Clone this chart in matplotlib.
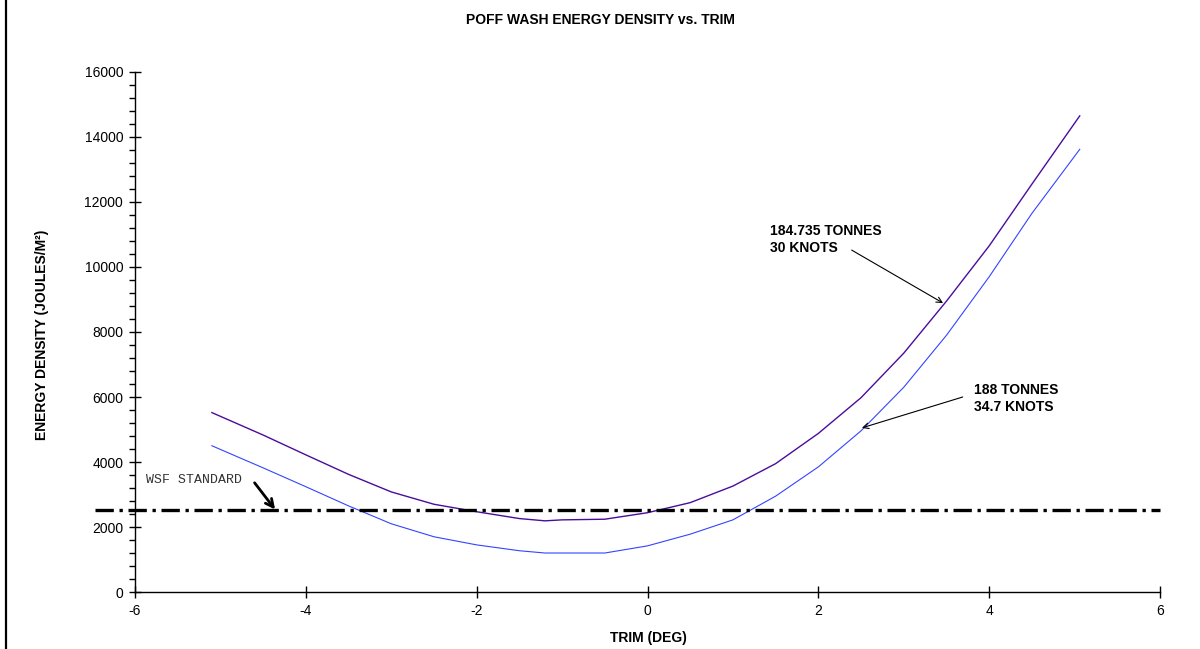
import matplotlib.pyplot as plt
from matplotlib.lines import Line2D
from matplotlib.ticker import MultipleLocator

plt.rcParams['font.family'] = ['Liberation Sans', 'DejaVu Sans']
plt.rcParams['axes.unicode_minus'] = False

# 184.735 tonnes, 30 knots
trim_a = [-5.1, -4.5, -4.0, -3.5, -3.0, -2.5, -2.0, -1.5, -1.2, -1.0, -0.5,
          0.0, 0.5, 1.0, 1.5, 2.0, 2.5, 3.0, 3.5, 4.0, 4.5, 5.06]
energy_a = [5520, 4830, 4220, 3620, 3080, 2700, 2470, 2260, 2190, 2220, 2240,
            2440, 2750, 3260, 3950, 4880, 5980, 7350, 8950, 10650, 12550, 14650]

# 188 tonnes, 34.7 knots
trim_b = [-5.1, -4.5, -4.0, -3.5, -3.0, -2.5, -2.0, -1.5, -1.2, -1.0, -0.5,
          0.0, 0.5, 1.0, 1.5, 2.0, 2.5, 3.0, 3.5, 4.0, 4.5, 5.06]
energy_b = [4500, 3820, 3240, 2650, 2100, 1700, 1450, 1270, 1200, 1200, 1200,
            1420, 1780, 2220, 2950, 3850, 4960, 6300, 7900, 9700, 11650, 13620]

wsf_standard = 2520

fig = plt.figure(figsize=(12, 6.49), dpi=100)
ax = fig.add_axes([0.1125, 0.0878, 0.8542, 0.8013])

ax.plot(trim_a, energy_a, color='#4a0c9c', lw=1.0)
ax.plot(trim_b, energy_b, color='#3344ff', lw=0.8)

# WSF standard line starts left of the axis
ax.plot([-6.47, 6.0], [wsf_standard, wsf_standard], color='black', lw=2.4,
        dashes=(5.5, 1.7, 1.0, 1.7), dash_capstyle='butt', clip_on=False)

ax.set_xlim(-6, 6)
ax.set_ylim(0, 16000)
ax.xaxis.set_major_locator(MultipleLocator(2))
ax.yaxis.set_major_locator(MultipleLocator(2000))
ax.yaxis.set_minor_locator(MultipleLocator(400))
ax.tick_params(axis='both', which='major', direction='inout', length=9,
               width=1, labelsize=10, pad=4)
ax.tick_params(axis='y', which='minor', direction='out', length=4, width=1)
for s in ['top', 'right']:
    ax.spines[s].set_visible(False)
ax.spines['left'].set_linewidth(1)
ax.spines['bottom'].set_linewidth(1)

ax.text(-5.87, 3450, 'WSF STANDARD', family=['Liberation Mono', 'DejaVu Sans Mono'],
        fontsize=9.5, color='#333333', va='center')
ax.annotate('', xy=(-4.36, 2540), xytext=(-4.6, 3360),
            arrowprops=dict(arrowstyle='->', lw=2, color='black',
                            mutation_scale=14, shrinkA=0, shrinkB=0))

ax.annotate('', xy=(3.46, 8890), xytext=(2.39, 10520),
            arrowprops=dict(arrowstyle='->', lw=0.8, color='black',
                            shrinkA=0, shrinkB=0))
ax.text(1.43, 10850, '184.735 TONNES\n30 KNOTS', fontsize=10,
        fontweight='bold', va='center', linespacing=1.3)

ax.annotate('', xy=(2.51, 5050), xytext=(3.69, 6000),
            arrowprops=dict(arrowstyle='->', lw=0.8, color='black',
                            shrinkA=0, shrinkB=0))
ax.text(3.82, 5960, '188 TONNES\n34.7 KNOTS', fontsize=10,
        fontweight='bold', va='center', linespacing=1.3)

fig.text(0.5, 0.969, 'POFF WASH ENERGY DENSITY vs. TRIM', ha='center',
         va='center', fontsize=10, fontweight='bold')
fig.text(0.54, 0.017, 'TRIM (DEG)', ha='center', va='center',
         fontsize=10, fontweight='bold')
fig.text(0.035, 0.322, 'ENERGY DENSITY (JOULES/M²)', rotation=90,
         ha='center', va='bottom', fontsize=10, fontweight='bold')

fig.add_artist(Line2D([0.005, 0.005], [0, 1], color='black', lw=1.6,
                      transform=fig.transFigure))

fig.savefig('out.png', dpi=100)
